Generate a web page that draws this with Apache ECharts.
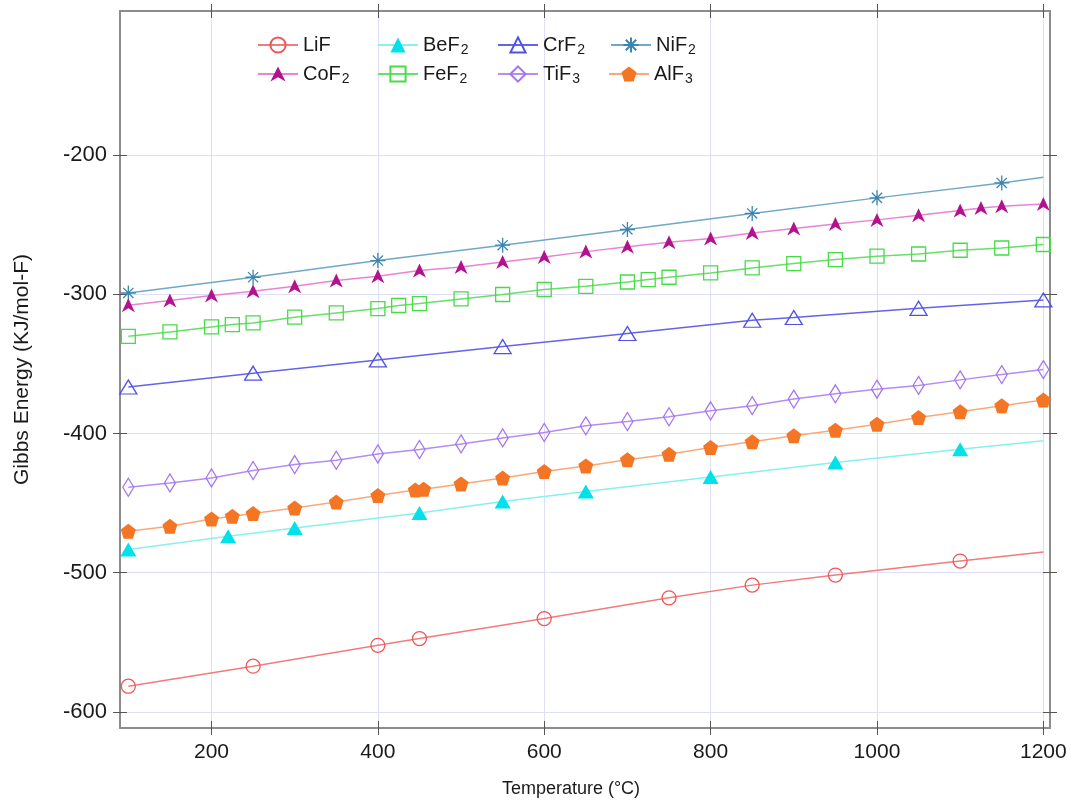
<!DOCTYPE html>
<html>
<head>
<meta charset="utf-8">
<script src="https://cdn.jsdelivr.net/npm/echarts@6/dist/echarts.min.js"></script>
<style>
  html, body { margin: 0; padding: 0; background: #fff; }
  #chart { width: 1073px; height: 804px; }
</style>
</head>
<body>
<div id="chart"></div>
<script>
// temperature (°C) and Gibbs energy (kJ/mol-F)
const lifT = [100, 250, 400, 450, 600, 750, 850, 950, 1100, 1200]
const lifG = [-581.5, -567.1, -552.1, -547.3, -532.9, -518.0, -508.9, -501.7, -491.6, -485.1]

const bef2T = [100, 220, 300, 450, 550, 650, 800, 950, 1100, 1200]
const bef2G = [-483.3, -473.8, -467.8, -457.1, -448.8, -441.7, -431.2, -420.9, -411.3, -405.3]

const crf2T = [100, 250, 400, 550, 700, 850, 900, 1050, 1200]
const crf2G = [-366.6, -356.7, -347.2, -337.6, -328.2, -318.7, -316.7, -310.1, -304.1]

const nif2T = [100, 250, 400, 550, 700, 850, 1000, 1150, 1200]
const nif2G = [-299.1, -287.8, -275.8, -264.8, -253.5, -242.0, -230.8, -220.1, -216.0]

const cof2T = [100, 150, 200, 250, 300, 350, 400, 450, 500, 550, 600, 650, 700, 750, 800, 850, 900, 950, 1000, 1050, 1100, 1125, 1150, 1200]
const cof2G = [-307.9, -304.5, -300.9, -297.8, -294.3, -290.2, -287.1, -283.0, -280.4, -276.8, -273.2, -269.4, -265.9, -262.7, -260.0, -256.0, -252.8, -249.5, -246.6, -243.3, -239.9, -238.0, -236.8, -235.2]

const fef2T = [100, 150, 200, 225, 250, 300, 350, 400, 425, 450, 500, 550, 600, 650, 700, 725, 750, 800, 850, 900, 950, 1000, 1050, 1100, 1150, 1200]
const fef2G = [-330.2, -327.1, -323.5, -321.8, -320.6, -316.5, -313.4, -310.3, -308.1, -306.7, -303.4, -300.2, -296.6, -294.3, -291.2, -289.5, -287.8, -284.7, -281.1, -278.0, -275.1, -272.7, -271.1, -268.4, -266.8, -264.3]

const tif3T = [100, 150, 200, 250, 300, 350, 400, 450, 500, 550, 600, 650, 700, 750, 800, 850, 900, 950, 1000, 1050, 1100, 1150, 1200]
const tif3G = [-438.6, -435.5, -431.9, -426.6, -422.3, -419.2, -414.7, -411.5, -407.5, -403.2, -399.3, -394.5, -391.4, -388.0, -383.7, -380.0, -375.3, -371.5, -368.2, -365.5, -361.5, -357.7, -354.1]

const alf3T = [100, 150, 200, 225, 250, 300, 350, 400, 445, 455, 500, 550, 600, 650, 700, 750, 800, 850, 900, 950, 1000, 1050, 1100, 1150, 1200]
const alf3G = [-470.2, -466.6, -461.4, -459.4, -457.5, -453.5, -449.2, -444.6, -440.6, -440.0, -436.2, -432.0, -427.3, -423.3, -418.9, -414.9, -410.1, -406.0, -401.7, -397.6, -393.3, -388.5, -384.4, -380.1, -376.0]

const xTicks = [200, 400, 600, 800, 1000, 1200]
const yTicks = [-600, -500, -400, -300, -200]

// legend order: two rows of four
const legendRows = [['LiF', 'BeF2', 'CrF2', 'NiF2'], ['CoF2', 'FeF2', 'TiF3', 'AlF3']]

const FONT = 'Liberation Sans'
const pentagon = 'path://M5 0L10 3.6L8.1 9.5L1.9 9.5L0 3.6Z'
const asterisk = 'path://M5 0L5 10M0 5L10 5M1.6 1.6L8.4 8.4M8.4 1.6L1.6 8.4'
const arrowHead = 'path://M5 0L10 10L5 7.2L0 10Z'

function pairs(ts, gs, lastMarked) {
  return ts.map((t, i) => {
    if (!lastMarked && i === ts.length - 1) return { value: [t, gs[i]], symbol: 'none' }
    return [t, gs[i]]
  })
}

function line(name, ts, gs, lastMarked, lineColor, symbol, size, itemStyle) {
  return {
    name: name,
    type: 'line',
    data: pairs(ts, gs, lastMarked),
    symbol: symbol,
    symbolSize: size,
    showAllSymbol: true,
    color: lineColor,
    lineStyle: { color: lineColor, width: 1.5 },
    itemStyle: itemStyle,
    emphasis: { disabled: true }
  }
}

function hollow(c) {
  return { color: 'rgba(255,255,255,0)', borderColor: c, borderWidth: 1.3 }
}

const series = [
  line('LiF', lifT, lifG, false, '#f27b7b', 'circle', 14, hollow('#f05555')),
  line('BeF2', bef2T, bef2G, false, '#86f0f2', 'triangle', [16, 14], { color: '#00e1ea' }),
  line('CrF2', crf2T, crf2G, true, '#6464ea', 'triangle', [17, 14], hollow('#5050e6')),
  line('NiF2', nif2T, nif2G, false, '#72a8c6', asterisk, 15, { color: 'rgba(0,0,0,0)', borderColor: '#3a86b0', borderWidth: 1.3 }),
  line('CoF2', cof2T, cof2G, true, '#e884d6', arrowHead, [13, 14], { color: '#b2128e' }),
  line('FeF2', fef2T, fef2G, true, '#66e066', 'rect', 14, hollow('#46dc46')),
  line('TiF3', tif3T, tif3G, true, '#b48cf2', 'diamond', [11, 18], hollow('#a474ee')),
  line('AlF3', alf3T, alf3G, true, '#f9a87a', pentagon, 15, { color: '#f47524' })
]

const legendLeft = [[252, 372, 492, 605], [252, 372, 492, 603]]
const legendTop = [30, 59]
const legends = []
legendRows.forEach((row, r) => {
  row.forEach((name, c) => {
    legends.push({
      data: [name],
      left: legendLeft[r][c],
      top: legendTop[r],
      itemWidth: 40,
      itemHeight: 19,
      itemGap: 0,
      selectedMode: false,
      formatter: n => n.replace(/(\d)$/, '{s|$1}'),
      textStyle: {
        fontFamily: FONT, fontSize: 20, color: '#1a1a1a', padding: [0, 0, 0, 0],
        rich: { s: { fontFamily: FONT, fontSize: 14, color: '#1a1a1a', padding: [10, 0, 0, 1] } }
      }
    })
  })
})

const frame = { show: true, lineStyle: { color: '#8c8c8c', width: 2 } }
const tickStyle = { color: '#555', width: 1 }

function xAxis(position, inside, main) {
  return {
    type: 'value', position: position, min: 90, max: 1208,
    axisLine: main || position === 'top' && inside ? frame : { show: false },
    axisTick: { show: true, inside: inside, length: 7, customValues: xTicks, lineStyle: tickStyle },
    axisLabel: main
      ? { customValues: xTicks, formatter: v => String(v), fontFamily: FONT, fontSize: 21, color: '#1a1a1a', margin: 14 }
      : { show: false },
    splitLine: main ? { show: true, lineStyle: { color: '#dedef6', width: 1 } } : { show: false },
    name: main ? 'Temperature (°C)' : '',
    nameLocation: 'middle',
    nameGap: 52,
    nameTextStyle: { fontFamily: FONT, fontSize: 18, color: '#1a1a1a', padding: [0, 28, 0, 0] }
  }
}

function yAxis(position, inside, main) {
  return {
    type: 'value', position: position, min: -611.5, max: -96.6,
    axisLine: main || position === 'right' && inside ? frame : { show: false },
    axisTick: { show: true, inside: inside, length: 7, customValues: yTicks, lineStyle: tickStyle },
    axisLabel: main
      ? { customValues: yTicks, formatter: v => String(v), fontFamily: FONT, fontSize: 22, color: '#1a1a1a', margin: 13 }
      : { show: false },
    splitLine: main ? { show: true, lineStyle: { color: '#dedef6', width: 1 } } : { show: false },
    name: main ? 'Gibbs Energy (KJ/mol-F)' : '',
    nameLocation: 'middle',
    nameGap: 87,
    nameTextStyle: { fontFamily: FONT, fontSize: 21, color: '#1a1a1a' }
  }
}

const chart = echarts.init(document.getElementById('chart'))
chart.setOption({
  animation: false,
  backgroundColor: '#fff',
  grid: { left: 120, right: 23, top: 11, bottom: 76, containLabel: false },
  legend: legends,
  xAxis: [xAxis('bottom', false, true), xAxis('bottom', true, false), xAxis('top', true, false), xAxis('top', false, false)],
  yAxis: [yAxis('left', false, true), yAxis('left', true, false), yAxis('right', true, false), yAxis('right', false, false)],
  series: series
})
</script>
</body>
</html>
